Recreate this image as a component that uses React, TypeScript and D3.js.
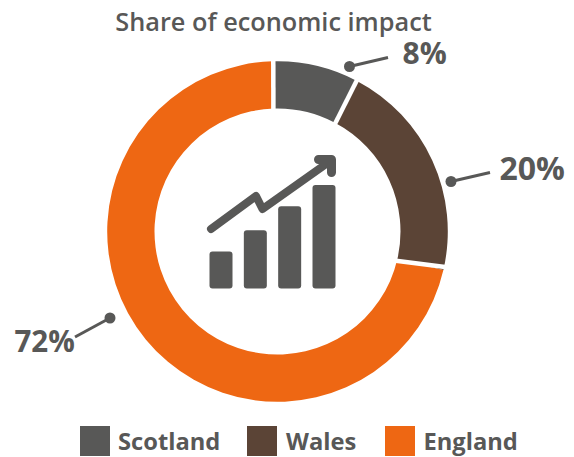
import React from "react";
import * as d3 from "d3";

const categories = ["Scotland", "Wales", "England"];
const sliceShares = [8.2, 20.9, 70.9];
const colors = ["#585857", "#5b4436", "#ee6713"];
const labels = ["8%", "20%", "72%"];
const labelSizes = [30, 32, 29.5];
const iconBars = [1.57, 2.48, 3.5, 4.4];
const FONT = "'Open Sans', sans-serif";
const INK = "#585857";

const W = 574, H = 457, CX = 277.5, CY = 231.5, RO = 170.3, RI = 123;
const rad = (deg: number) => (deg * Math.PI) / 180;
const START = rad(-1.7);

const pie = d3.pie<number>().sort(null).startAngle(START).endAngle(START + 2 * Math.PI);
const arc = d3.arc<d3.PieArcDatum<number>>().innerRadius(RI).outerRadius(RO);

// separators run slightly off-radial in the reference: [outer angle, inner angle]
const separators = [[-1.4, -1.95], [27.7, 28.1], [101.9, 104]];
const polar = (deg: number, r: number) => [r * Math.sin(rad(deg)), -r * Math.cos(rad(deg))];

const leaders = [
  { dot: [349.5, 66.5], end: [388, 57.5], tx: 402.5, ty: 64 },
  { dot: [451, 181.5], end: [490, 172.5], tx: 499.5, ty: 180 },
  { dot: [110, 318], end: [75, 337], tx: 14.5, ty: 352 },
];
const legendPos = [
  { sx: 80, tx: 118 },
  { sx: 247, tx: 286 },
  { sx: 385, tx: 423.5 },
];

const iconX = d3.scaleBand<number>().domain(d3.range(iconBars.length)).range([209.5, 335.5]).paddingInner(0.33).paddingOuter(0);
const iconY = d3.scaleLinear().domain([0, 4.4]).range([288.5, 185]);
const arrowLine = d3.line()([[211, 229], [256, 196], [262.5, 209], [331, 160.5]]);
const arrowHead = d3.line()([[318.5, 159.5], [331.5, 159.5], [331.5, 172.5]]);

export default function App() {
  return (
    <svg width={W} height={H} viewBox={`0 0 ${W} ${H}`} style={{ position: "absolute", left: 0, top: 0, background: "#fff" }}>
      <text x={273.5} y={30.5} textAnchor="middle" fontFamily={FONT} fontSize={25.3} fontWeight={600} fill={INK}>
        Share of economic impact
      </text>
      <g transform={`translate(${CX},${CY})`}>
        {pie(sliceShares).map((d, i) => (
          <path key={categories[i]} d={arc(d) || ""} fill={colors[i]} />
        ))}
        {separators.map(([a, b], i) => {
          const p = polar(a, RO + 3);
          const q = polar(b, RI - 3);
          return <line key={i} x1={p[0]} y1={p[1]} x2={q[0]} y2={q[1]} stroke="#fff" strokeWidth={4.5} />;
        })}
      </g>
      {leaders.map((l, i) => (
        <g key={labels[i]}>
          <line x1={l.dot[0]} y1={l.dot[1]} x2={l.end[0]} y2={l.end[1]} stroke={INK} strokeWidth={3} />
          <circle cx={l.dot[0]} cy={l.dot[1]} r={5.5} fill={INK} />
          <text x={l.tx} y={l.ty} fontFamily={FONT} fontSize={labelSizes[i]} fontWeight={700} fill={INK}>{labels[i]}</text>
        </g>
      ))}
      {iconBars.map((v, i) => (
        <rect key={i} x={iconX(i)} y={iconY(v)} width={iconX.bandwidth()} height={iconY(0) - iconY(v)} rx={3} fill={INK} />
      ))}
      <path d={arrowLine || ""} fill="none" stroke={INK} strokeWidth={8} strokeLinecap="round" strokeLinejoin="round" />
      <path d={arrowHead || ""} fill="none" stroke={INK} strokeWidth={9} strokeLinecap="round" strokeLinejoin="round" />
      {categories.map((c, i) => (
        <g key={c}>
          <rect x={legendPos[i].sx} y={426} width={30} height={30} fill={colors[i]} />
          <text x={legendPos[i].tx} y={450} fontFamily={FONT} fontSize={23.7} fontWeight={700} fill={INK}>{c}</text>
        </g>
      ))}
    </svg>
  );
}
